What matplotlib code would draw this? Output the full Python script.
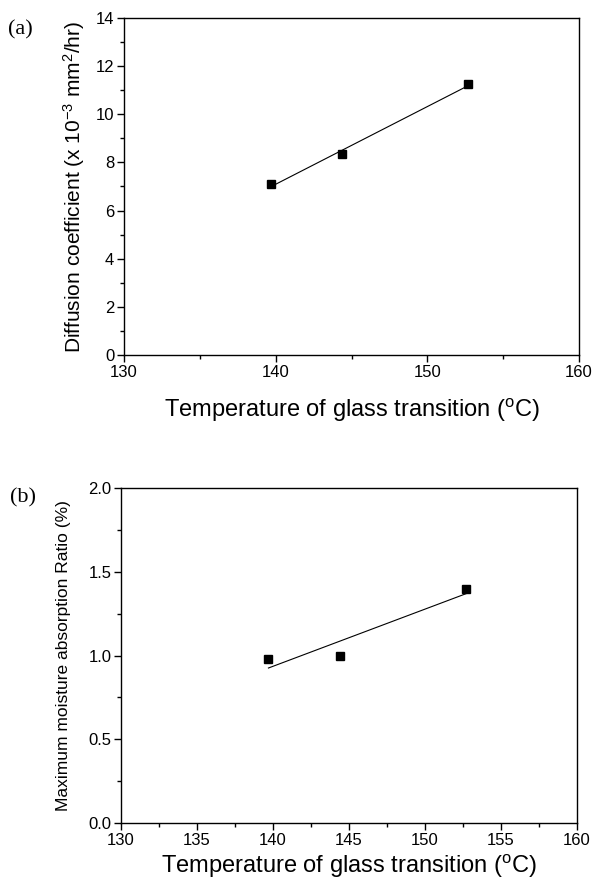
import numpy as np
import matplotlib
matplotlib.use("Agg")
import matplotlib.pyplot as plt
from matplotlib.ticker import MultipleLocator

plt.rcParams['font.family'] = ['Liberation Sans', 'DejaVu Sans']
plt.rcParams['mathtext.fontset'] = 'custom'
plt.rcParams['mathtext.rm'] = 'Liberation Sans'
plt.rcParams['mathtext.it'] = 'Liberation Sans'

# Datos
tgA = [139.7, 144.4, 152.7]
difusion = [7.1, 8.35, 11.25]

tgB = [139.7, 144.4, 152.7]
absorcion = [0.98, 1.00, 1.40]

W, H = 601, 885
fig = plt.figure(figsize=(W / 100, H / 100), dpi=100)

def ejes(izq, arriba, der, abajo):
    return fig.add_axes([izq / W, 1 - abajo / H, (der - izq) / W, (abajo - arriba) / H])

def estilo(ax):
    for s in ax.spines.values():
        s.set_linewidth(1.0)
    ax.tick_params(which='major', direction='out', length=5, width=1.0, labelsize=12, pad=2,
                   top=False, right=False)
    ax.tick_params(which='minor', direction='out', length=3, width=1.0, top=False, right=False)

# (a) coeficiente de difusion
axA = ejes(124, 18, 579, 355)
m, b = np.polyfit(tgA, difusion, 1)
xs = np.array([min(tgA), max(tgA)])
axA.plot(xs, m * xs + b, color='black', lw=0.8)
axA.plot(tgA, difusion, 's', color='black', ms=6)
axA.set_xlim(130, 160)
axA.set_ylim(0, 14)
axA.xaxis.set_major_locator(MultipleLocator(10))
axA.xaxis.set_minor_locator(MultipleLocator(5))
axA.yaxis.set_major_locator(MultipleLocator(2))
axA.yaxis.set_minor_locator(MultipleLocator(1))
estilo(axA)
axA.set_xlabel('Temperature of glass transition ($^\\mathrm{o}$C)', fontsize=17, labelpad=12)
axA.set_ylabel('Diffusion coefficient (x 10$^{-3}$ mm$^{2}$/hr)', fontsize=15, labelpad=6)
fig.text(8 / W, 1 - 30 / H, '(a)', fontsize=16, family='Liberation Serif', va='center', ha='left')

# (b) absorcion maxima de humedad
axB = ejes(121, 488, 577, 823)
m, b = np.polyfit(tgB, absorcion, 1)
xs = np.array([min(tgB), max(tgB)])
axB.plot(xs, m * xs + b, color='black', lw=0.8)
axB.plot(tgB, absorcion, 's', color='black', ms=6)
axB.set_xlim(130, 160)
axB.set_ylim(0, 2)
axB.xaxis.set_major_locator(MultipleLocator(5))
axB.xaxis.set_minor_locator(MultipleLocator(2.5))
axB.yaxis.set_major_locator(MultipleLocator(0.5))
axB.yaxis.set_minor_locator(MultipleLocator(0.25))
axB.yaxis.set_major_formatter(matplotlib.ticker.FormatStrFormatter('%.1f'))
estilo(axB)
axB.set_xlabel('Temperature of glass transition ($^\\mathrm{o}$C)', fontsize=17, labelpad=4)
axB.set_ylabel('Maximum moisture absorption Ratio (%)', fontsize=12.5, labelpad=12)
fig.text(10 / W, 1 - 498 / H, '(b)', fontsize=16, family='Liberation Serif', va='center', ha='left')

fig.savefig('out.png', dpi=100)
